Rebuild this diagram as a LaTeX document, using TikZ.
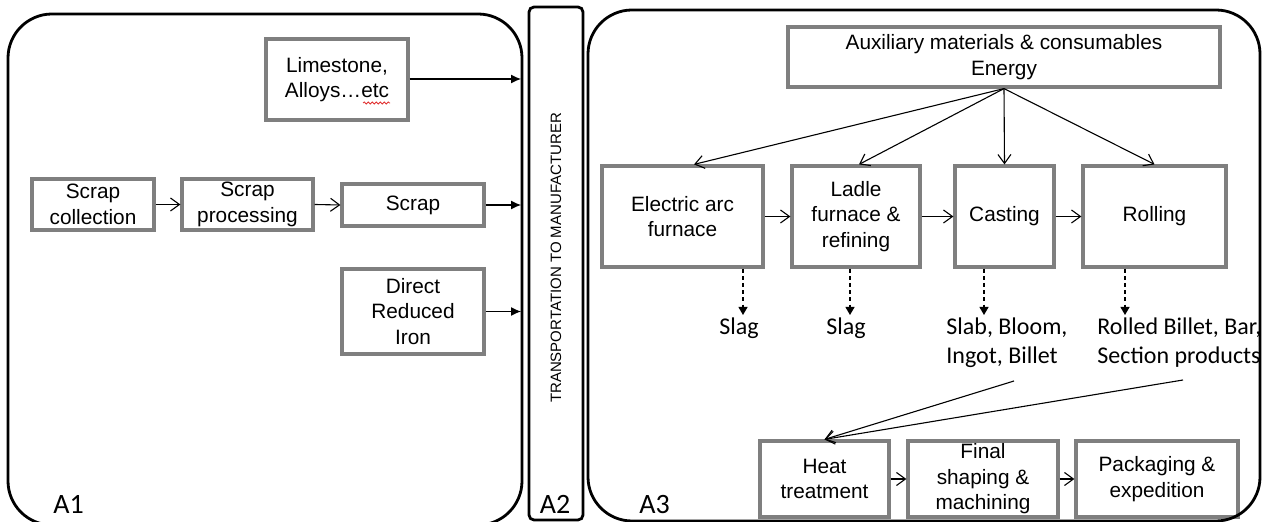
\documentclass[tikz,border=0pt]{standalone}
\usepackage{fontspec}
\setmainfont{Liberation Sans}
\newfontfamily\calib{Carlito}
\usetikzlibrary{arrows.meta,calc,decorations.pathmorphing}
\definecolor{boxgray}{HTML}{7F7F7F}
\definecolor{spellred}{HTML}{E03030}
\begin{document}
\begin{tikzpicture}[x=0.5pt,y=-0.5pt,
  gbox/.style={draw=boxgray, line width=1.6pt, inner sep=0pt, align=center,
    font=\fontsize{10.4}{12.8}\selectfont},
  conn/.style={line width=0.55pt, -{Straight Barb[length=4.5pt,width=6.5pt]}},
  fconn/.style={line width=0.55pt, -{Latex[length=5pt,width=4.5pt]}},
  dconn/.style={line width=0.55pt, dash pattern=on 2pt off 1.6pt, -{Triangle[length=4pt,width=4.5pt]}},
  big/.style={draw, line width=1.4pt},
  lab/.style={font=\calib\fontsize{12}{14.5}\selectfont, inner sep=0pt, align=left},
  area/.style={font=\calib\fontsize{14}{16}\selectfont, inner sep=0pt}]
\useasboundingbox (0,0) rectangle (1269,522);

% A1 and A2 frames
\draw[big, rounded corners=22pt] (8,14) rectangle (522,525);
\draw[big, rounded corners=2.5pt] (529,7) rectangle (583,520);

% A1 content
\node[gbox, minimum width=71pt, minimum height=40.5pt] (lime) at (337,79.5) {Limestone,\\Alloys\dots etc};
\draw[spellred, line width=0.4pt, decorate, decoration={snake, amplitude=0.5pt, segment length=2pt}] (363,103) -- (390,103);
\node[gbox, minimum width=61pt, minimum height=25.5pt] (sc) at (93,204.5) {Scrap\\collection};
\node[gbox, minimum width=65.5pt, minimum height=25.5pt] (sp) at (247.5,204.5) {Scrap\\processing};
\node[gbox, minimum width=71pt, minimum height=21pt] (scrap) at (413,205) {Scrap};
\node[gbox, minimum width=71pt, minimum height=42.5pt] (dri) at (413,311.5) {Direct\\Reduced\\Iron};

\coordinate (t1) at (521,79);
\coordinate (t2) at (521,205);
\coordinate (t3) at (521,311.5);
\draw[fconn] (lime.east |- t1) -- (t1);
\draw[fconn] (scrap.east) -- (t2);
\draw[fconn] (dri.east) -- (t3);
\draw[conn] (sc.east) -- (sp.west);
\draw[conn] (sp.east) -- (scrap.west);

% A2 content
\node[rotate=90, font=\fontsize{7.5}{8.5}\selectfont, inner sep=0pt] (trans) at (556,258) {TRANSPORTATION TO MANUFACTURER};
\node[area, anchor=base] (a2) at (555,514) {A2};

% A3 content
\node[gbox, minimum width=216pt, minimum height=30pt] (aux) at (1004,57) {Auxiliary materials \& consumables\\Energy};
\node[gbox, minimum width=80.5pt, minimum height=50.5pt] (eaf) at (682.5,216.5) {Electric arc\\furnace};
\node[gbox, minimum width=64pt, minimum height=50.5pt] (ladle) at (856,216.5) {Ladle\\furnace \&\\refining};
\node[gbox, minimum width=49.5pt, minimum height=50.5pt] (cast) at (1004.5,216.5) {Casting};
\node[gbox, minimum width=71.5pt, minimum height=50.5pt] (roll) at (1154.5,216.5) {Rolling};

\draw[conn] (aux.south) -- ($(eaf.north)+(11.5,0)$);
\draw[conn] (aux.south) -- ($(ladle.north)+(3,0)$);
\draw[conn] (aux.south) -- (cast.north);
\draw[conn] (aux.south) -- (roll.north);

\draw[conn] (eaf.east) -- (ladle.west);
\draw[conn] (ladle.east) -- (cast.west);
\draw[conn] (cast.east) -- (roll.west);

\coordinate (d1) at (743,315);
\coordinate (d2) at (850,315);
\coordinate (d3) at (984,315);
\coordinate (d4) at (1125,315);
\draw[dconn] (eaf.south -| d1) -- (d1);
\draw[dconn] (ladle.south -| d2) -- (d2);
\draw[dconn] (cast.south -| d3) -- (d3);
\draw[dconn] (roll.south -| d4) -- (d4);

\node[lab] (slag1) at (739,328) {Slag};
\node[lab] (slag2) at (846,328) {Slag};
\node[lab, anchor=west] (cprod) at (946,342.5) {Slab, Bloom,\\Ingot, Billet};
\node[lab, anchor=west] (rprod) at (1097,342.5) {Rolled Billet, Bar,\\Section products};

\node[gbox, minimum width=64.5pt, minimum height=38pt] (heat) at (824.5,479) {Heat\\treatment};
\node[gbox, minimum width=75pt, minimum height=38pt] (final) at (983,479) {Final\\shaping \&\\machining};
\node[gbox, minimum width=81pt, minimum height=38pt] (pack) at (1157,479) {Packaging \&\\expedition};

\coordinate (s1) at (1014,381);
\coordinate (s2) at (1183,380);
\draw[conn] (s1) -- (heat.north);
\draw[conn] (s2) -- (heat.north);
\draw[conn] (heat.east) -- (final.west);
\draw[conn] (final.east) -- (pack.west);

% A3 frame on top
\draw[big, rounded corners=22pt] (588,10) rectangle (1260,521);

\node[area, anchor=base west] (a1) at (53,514) {A1};
\node[area, anchor=base west] (a3) at (639,514) {A3};
\end{tikzpicture}
\end{document}
